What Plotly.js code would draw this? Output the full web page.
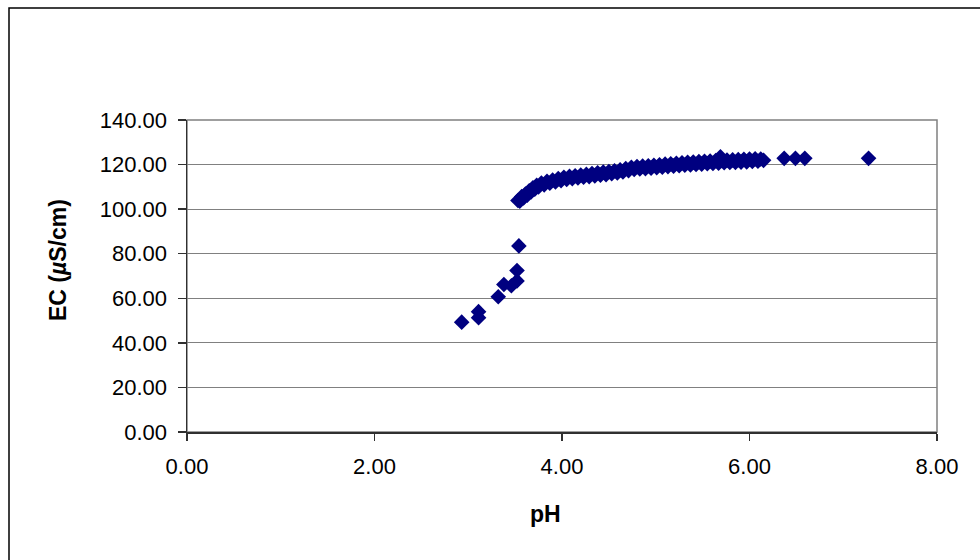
<!DOCTYPE html>
<html>
<head>
<meta charset="utf-8">
<script src="https://cdn.plot.ly/plotly-3.0.1.min.js"></script>
<style>html,body{margin:0;padding:0;background:#fff;}#chart{width:980px;height:560px;}</style>
</head>
<body>
<div id="chart"></div>
<script>
// pH values
var ph = [
  2.93, 3.11, 3.11, 3.32, 3.38, 3.46, 3.52, 3.52, 3.54,
  3.53, 3.55, 3.57, 3.59, 3.61, 3.63, 3.65, 3.67, 3.69, 3.71, 3.73, 3.75,
  3.78, 3.81, 3.84, 3.87, 3.90, 3.93, 3.96, 3.99, 4.02, 4.05, 4.08, 4.11,
  4.14, 4.17, 4.20, 4.23, 4.26, 4.29, 4.32, 4.35, 4.38, 4.41, 4.44, 4.47,
  4.50, 4.53, 4.56, 4.59, 4.62, 4.65, 4.68, 4.71, 4.74, 4.77, 4.80, 4.83,
  4.86, 4.89, 4.92, 4.95, 4.98, 5.01, 5.04, 5.07, 5.10, 5.13, 5.16, 5.19,
  5.22, 5.25, 5.28, 5.31, 5.34, 5.37, 5.40, 5.43, 5.46, 5.49, 5.52, 5.55,
  5.58, 5.61, 5.64, 5.67, 5.70, 5.73, 5.76, 5.79, 5.82, 5.85, 5.88, 5.91,
  5.94, 5.97, 6.00, 6.03, 6.06, 6.09, 6.12, 6.15,
  5.69, 6.37, 6.49, 6.59, 7.27
];
// EC values (µS/cm)
var ec = [
  49.3, 54.0, 51.3, 60.7, 66.2, 65.6, 67.8, 72.5, 83.5,
  103.9, 103.6, 105.6, 105.0, 106.8, 106.3, 108.2, 107.7, 109.6, 109.0, 110.7, 110.0,
  111.7, 110.9, 112.5, 111.6, 113.1, 112.2, 113.7, 112.8, 114.3, 113.3, 114.7, 113.7,
  115.0, 114.0, 115.3, 114.3, 115.6, 114.6, 116.0, 114.9, 116.3, 115.2, 116.6, 115.5,
  116.9, 115.9, 117.2, 116.2, 117.6, 116.7, 118.2, 117.3, 118.8, 117.8, 119.1, 118.0,
  119.3, 118.2, 119.5, 118.4, 119.7, 118.6, 119.9, 118.8, 120.2, 119.1, 120.4, 119.3,
  120.6, 119.5, 120.8, 119.7, 121.0, 119.8, 121.1, 120.0, 121.3, 120.2, 121.5, 120.4,
  121.6, 120.5, 121.8, 120.6, 121.9, 120.8, 122.0, 120.9, 122.1, 121.0, 122.2, 121.1,
  122.4, 121.2, 122.5, 121.4, 122.6, 121.5, 122.5, 121.9,
  123.5, 122.8, 122.8, 122.8, 122.8
];
var xTicks = [0, 2, 4, 6, 8];
var yTicks = [0, 20, 40, 60, 80, 100, 120, 140];
var xTitle = 'pH';
var yTitle = 'EC (<i>µ</i>S/cm)';

var W = 980, H = 560;
var L = 187, R = 937, T = 120, B = 432;
function px(x){ return (x - L) / (R - L); }
function py(y){ return (B - y) / (B - T); }

var font = 'Liberation Sans, Arial, sans-serif';

var trace = {
  type: 'scatter', mode: 'markers', x: ph, y: ec,
  marker: {symbol: 'diamond', size: 12, color: '#000080', line: {width: 0}},
  hoverinfo: 'x+y'
};

var layout = {
  width: W, height: H,
  margin: {l: L, r: W - R, t: T, b: H - B, pad: 0},
  paper_bgcolor: '#ffffff', plot_bgcolor: '#ffffff',
  showlegend: false,
  font: {family: font, color: '#000000', size: 22},
  xaxis: {
    range: [0, 8], tickvals: xTicks, tickformat: '.2f',
    showgrid: false, zeroline: false,
    showline: true, linecolor: '#303030', linewidth: 1.5,
    ticks: 'outside', ticklen: 7, tickcolor: '#303030', tickwidth: 1.5,
    tickfont: {family: font, size: 22, color: '#000'}, ticklabelstandoff: 7
  },
  yaxis: {
    range: [0, 140], tickvals: yTicks, tickformat: '.2f',
    showgrid: true, gridcolor: '#808080', gridwidth: 1, zeroline: false,
    showline: true, linecolor: '#303030', linewidth: 1.5,
    ticks: 'outside', ticklen: 8, tickcolor: '#303030', tickwidth: 1.5,
    tickfont: {family: font, size: 22, color: '#000'}, ticklabelstandoff: 6
  },
  shapes: [
    {type: 'rect', xref: 'paper', yref: 'paper', x0: 0, x1: 1, y0: 0, y1: 1,
     line: {color: '#808080', width: 1.5}, layer: 'below'},
    {type: 'rect', xref: 'paper', yref: 'paper', x0: px(9), x1: px(995), y0: py(8), y1: py(575),
     line: {color: '#000000', width: 1.5}, layer: 'below'}
  ],
  annotations: [
    {xref: 'paper', yref: 'paper', x: px(545), y: py(514), text: '<b>' + xTitle + '</b>',
     showarrow: false, xanchor: 'center', yanchor: 'middle', font: {family: font, size: 23, color: '#000'}},
    {xref: 'paper', yref: 'paper', x: px(58), y: py(260), text: '<b>' + yTitle + '</b>', textangle: -90,
     showarrow: false, xanchor: 'center', yanchor: 'middle', font: {family: font, size: 23, color: '#000'}}
  ]
};

Plotly.newPlot('chart', [trace], layout, {displayModeBar: false, staticPlot: true});
</script>
</body>
</html>
